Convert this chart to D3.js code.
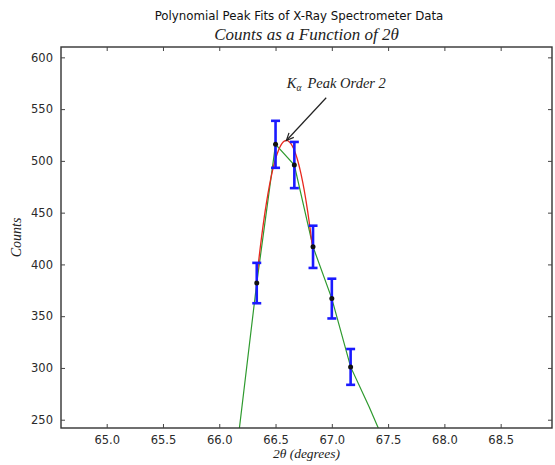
<!DOCTYPE html>
<html>
<head>
<meta charset="utf-8">
<script src="https://cdn.jsdelivr.net/npm/d3@7"></script>
<style>
  html, body { margin: 0; padding: 0; background: #fff; }
  svg { display: block; }
  .tick-label { font-family: "DejaVu Sans", sans-serif; font-size: 11.5px; fill: #2a2a2a; }
  .math { font-family: "Liberation Serif", "DejaVu Serif", serif; font-style: italic; fill: #222; }
</style>
</head>
<body>
<svg id="chart" width="555" height="465"></svg>
<script>
// Scan angles (degrees 2θ) and measured counts for the full scan line
const scanAngle  = [66.167, 66.333, 66.5, 66.667, 66.833, 67.0, 67.167, 67.333, 67.5];
const scanCounts = [231, 382, 516, 496, 417, 367, 301, 262, 220];

// Peak-region measurements with counting (sqrt N) uncertainties
const peakAngle  = [66.333, 66.5, 66.667, 66.833, 67.0, 67.167];
const peakCounts = [382, 516, 496, 417, 367, 301];
const peakError  = [19.5, 22.7, 22.3, 20.4, 19.2, 17.3];

// Points used for the order-2 polynomial peak fit
const fitAngle  = [66.333, 66.5, 66.667, 66.833];
const fitCounts = [382, 516, 496, 417];

// Axis ticks
const xTicks = [65.0, 65.5, 66.0, 66.5, 67.0, 67.5, 68.0, 68.5];
const yTicks = [250, 300, 350, 400, 450, 500, 550, 600];

// Annotation: label position and arrow tail (data units)
const noteText = [66.6, 570];
const noteTail = [66.95, 561];

const svg = d3.select("#chart");
const pLeft = 61, pRight = 552, pTop = 47, pBottom = 428;

const x = d3.scaleLinear().domain([64.594, 68.956]).range([pLeft, pRight]);
const y = d3.scaleLinear().domain([242, 610]).range([pBottom, pTop]);

// Titles
svg.append("text")
  .attr("x", 299).attr("y", 20)
  .attr("text-anchor", "middle")
  .style("font-family", "'DejaVu Sans', sans-serif")
  .style("font-size", "11.8px").style("fill", "#111")
  .text("Polynomial Peak Fits of X-Ray Spectrometer Data");

svg.append("text")
  .attr("class", "math")
  .attr("x", (pLeft + pRight) / 2).attr("y", 40)
  .attr("text-anchor", "middle")
  .style("font-size", "17px")
  .text("Counts as a Function of 2θ");

// Clip region for plot contents
svg.append("defs").append("clipPath").attr("id", "plot-clip")
  .append("rect").attr("x", pLeft).attr("y", pTop)
  .attr("width", pRight - pLeft).attr("height", pBottom - pTop);

const plot = svg.append("g").attr("clip-path", "url(#plot-clip)");

// Scan line
const line = d3.line().x(d => x(d[0])).y(d => y(d[1]));
plot.append("path")
  .datum(d3.zip(scanAngle, scanCounts))
  .attr("d", line)
  .attr("fill", "none")
  .attr("stroke", "#2e9a2e")
  .attr("stroke-width", 1.2);

// Least-squares quadratic fit over the peak points
function quadFit(xs, ys) {
  const x0 = d3.mean(xs);
  const S = [0, 0, 0, 0, 0], T = [0, 0, 0];
  xs.forEach((xv, i) => {
    const u = xv - x0;
    for (let k = 0; k < 5; k++) S[k] += Math.pow(u, k);
    for (let k = 0; k < 3; k++) T[k] += ys[i] * Math.pow(u, k);
  });
  const A = [[S[0], S[1], S[2], T[0]], [S[1], S[2], S[3], T[1]], [S[2], S[3], S[4], T[2]]];
  for (let i = 0; i < 3; i++) {
    for (let j = i + 1; j < 3; j++) {
      const f = A[j][i] / A[i][i];
      for (let k = i; k < 4; k++) A[j][k] -= f * A[i][k];
    }
  }
  const c = [0, 0, 0];
  for (let i = 2; i >= 0; i--) {
    let s = A[i][3];
    for (let k = i + 1; k < 3; k++) s -= A[i][k] * c[k];
    c[i] = s / A[i][i];
  }
  return xv => c[0] + c[1] * (xv - x0) + c[2] * (xv - x0) * (xv - x0);
}
const fit = quadFit(fitAngle, fitCounts);
const fitX = d3.range(0, 101).map(i => fitAngle[0] + (fitAngle[fitAngle.length - 1] - fitAngle[0]) * i / 100);
plot.append("path")
  .datum(fitX.map(v => [v, fit(v)]))
  .attr("d", line)
  .attr("fill", "none")
  .attr("stroke", "#e8281e")
  .attr("stroke-width", 1.3);

// Error bars
const bars = plot.append("g").attr("stroke", "#1a1aff").attr("stroke-width", 2.6);
peakAngle.forEach((a, i) => {
  const cx = x(a), y1 = y(peakCounts[i] - peakError[i]), y2 = y(peakCounts[i] + peakError[i]);
  bars.append("line").attr("x1", cx).attr("x2", cx).attr("y1", y1).attr("y2", y2);
  bars.append("line").attr("x1", cx - 4.5).attr("x2", cx + 4.5).attr("y1", y1).attr("y2", y1);
  bars.append("line").attr("x1", cx - 4.5).attr("x2", cx + 4.5).attr("y1", y2).attr("y2", y2);
});

// Data points
plot.append("g").selectAll("circle")
  .data(d3.zip(peakAngle, peakCounts))
  .join("circle")
  .attr("cx", d => x(d[0])).attr("cy", d => y(d[1]))
  .attr("r", 2.5).attr("fill", "#111");

// Frame
svg.append("rect")
  .attr("x", pLeft).attr("y", pTop)
  .attr("width", pRight - pLeft).attr("height", pBottom - pTop)
  .attr("fill", "none").attr("stroke", "#333").attr("stroke-width", 1.4);

// Axes with inward ticks
const axB = svg.append("g").attr("transform", `translate(0,${pBottom})`)
  .call(d3.axisBottom(x).tickValues(xTicks).tickFormat(d3.format(".1f")).tickSizeInner(-4).tickSizeOuter(0).tickPadding(8));
const axT = svg.append("g").attr("transform", `translate(0,${pTop})`)
  .call(d3.axisTop(x).tickValues(xTicks).tickFormat("").tickSizeInner(-4).tickSizeOuter(0));
const axL = svg.append("g").attr("transform", `translate(${pLeft},0)`)
  .call(d3.axisLeft(y).tickValues(yTicks).tickFormat(d3.format("d")).tickSizeInner(-4).tickSizeOuter(0).tickPadding(8));
const axR = svg.append("g").attr("transform", `translate(${pRight},0)`)
  .call(d3.axisRight(y).tickValues(yTicks).tickFormat("").tickSizeInner(-4).tickSizeOuter(0));
[axB, axT, axL, axR].forEach(g => {
  g.select(".domain").remove();
  g.selectAll(".tick line").attr("stroke", "#444");
  g.selectAll(".tick text").attr("class", "tick-label").attr("fill", null);
});

// Axis labels
svg.append("text")
  .attr("class", "math")
  .attr("x", (pLeft + pRight) / 2).attr("y", 458)
  .attr("text-anchor", "middle")
  .style("font-size", "13.5px")
  .text("2θ (degrees)");

svg.append("text")
  .attr("class", "math")
  .attr("transform", `translate(21,${(pTop + pBottom) / 2}) rotate(-90)`)
  .attr("text-anchor", "middle")
  .style("font-size", "14px")
  .text("Counts");

// Annotation pointing at the fitted peak maximum
const peakX = d3.range(0, 1001).map(i => fitAngle[0] + (fitAngle[fitAngle.length - 1] - fitAngle[0]) * i / 1000);
const tipX = peakX[d3.maxIndex(peakX, fit)];
const tip = [x(tipX), y(fit(tipX))];
const tail = [x(noteTail[0]), y(noteTail[1])];

const note = svg.append("text")
  .attr("class", "math")
  .attr("x", x(noteText[0])).attr("y", y(noteText[1]))
  .style("font-size", "14.5px");
note.append("tspan").text("K");
note.append("tspan").attr("dy", 3).style("font-size", "9.5px").text("α");
note.append("tspan").attr("dy", -3).attr("dx", 6).text("Peak Order 2");

const ang = Math.atan2(tip[1] - tail[1], tip[0] - tail[0]);
const head = 8, spread = 0.42;
const arrow = svg.append("g").attr("stroke", "#222").attr("stroke-width", 1.2).attr("fill", "none");
arrow.append("line").attr("x1", tail[0]).attr("y1", tail[1]).attr("x2", tip[0]).attr("y2", tip[1]);
arrow.append("path").attr("d",
  `M${tip[0] - head * Math.cos(ang - spread)},${tip[1] - head * Math.sin(ang - spread)}` +
  `L${tip[0]},${tip[1]}` +
  `L${tip[0] - head * Math.cos(ang + spread)},${tip[1] - head * Math.sin(ang + spread)}`);
</script>
</body>
</html>
